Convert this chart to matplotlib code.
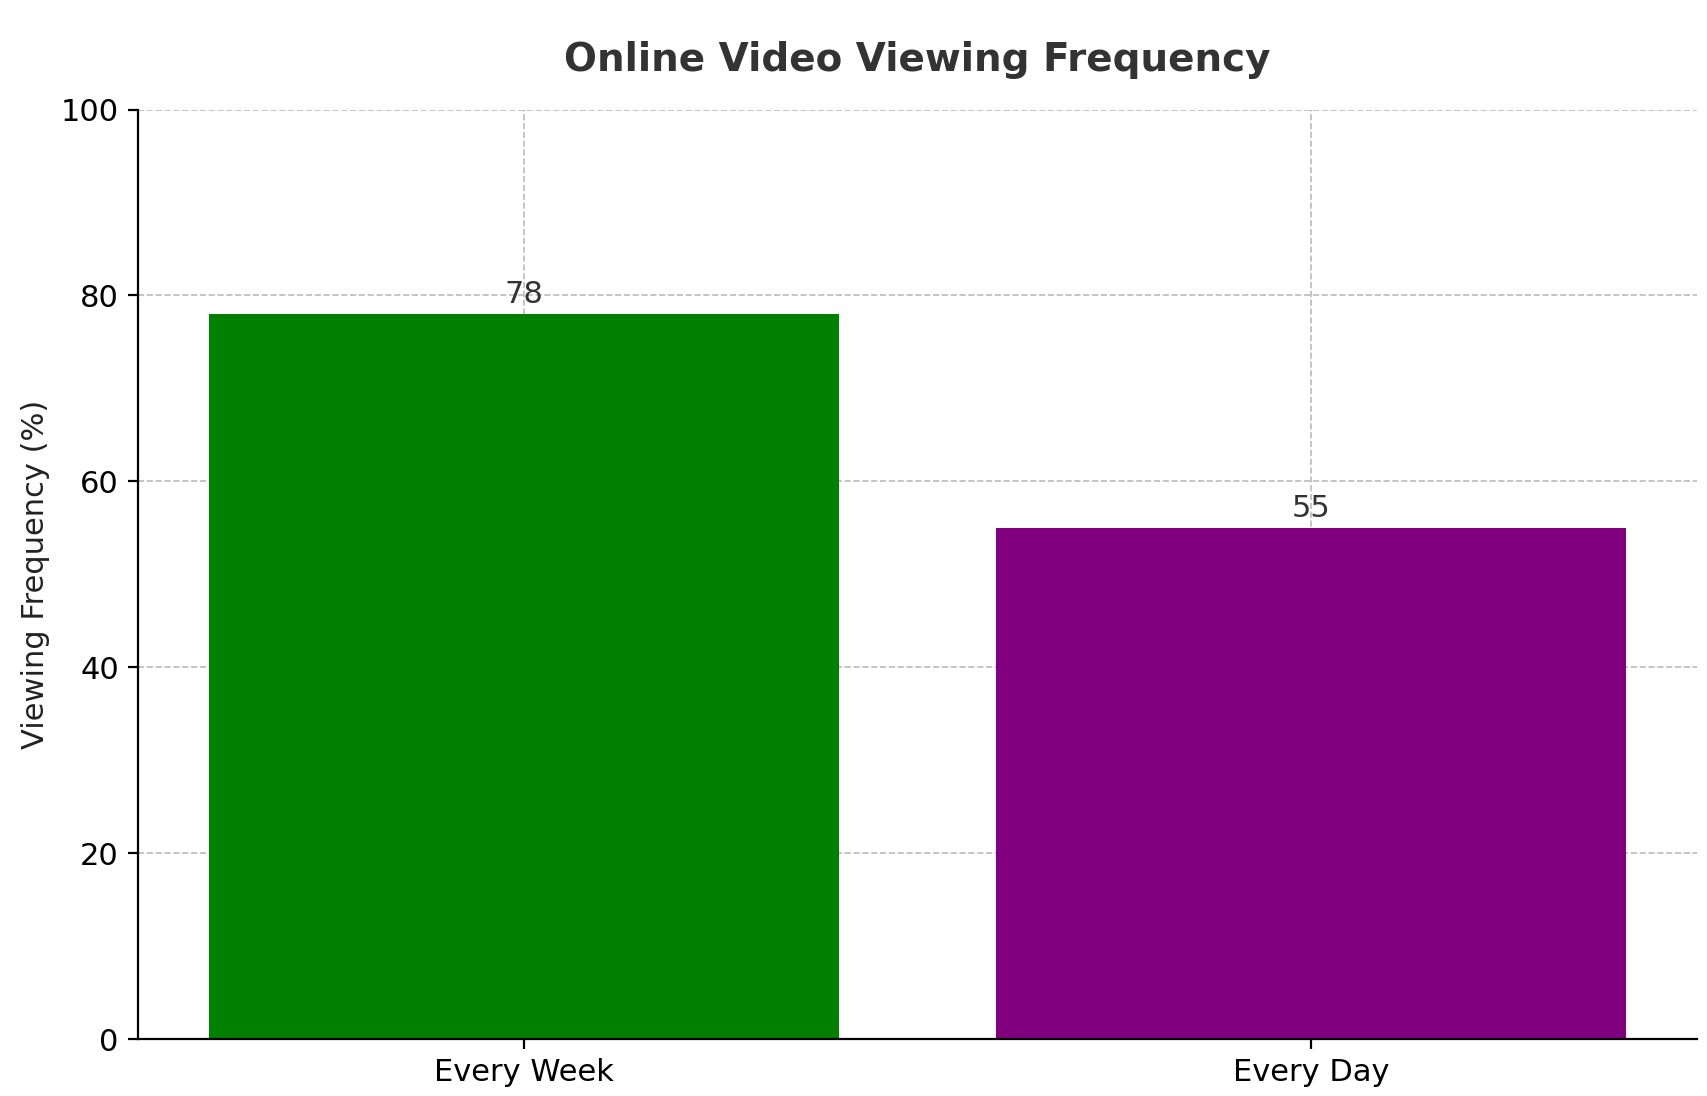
import matplotlib.pyplot as plt

categories = ['Every Week', 'Every Day']
values = [78, 55]
colors = ['green', 'purple']

fig = plt.figure(figsize=(1707 / 200, 1096 / 200), dpi=200)
ax = fig.add_axes([0.081, 0.052, 0.913, 0.848])

bars = ax.bar(categories, values, color=colors, width=0.8, zorder=2)
for b, v in zip(bars, values):
    ax.text(b.get_x() + b.get_width() / 2, v + 0.5, str(v), ha='center', va='bottom',
            fontsize=11, color='#333333', zorder=3)

ax.set_ylim(0, 100)
ax.set_ylabel('Viewing Frequency (%)', fontsize=11, color='#222222')
ax.set_title('Online Video Viewing Frequency', fontsize=14, fontweight='bold', color='#333333', pad=14)
ax.grid(True, linestyle='--', color='#bbbbbb', linewidth=0.6, zorder=3)
ax.tick_params(labelsize=11)
for s in ['top', 'right']:
    ax.spines[s].set_visible(False)

fig.savefig('out.png', dpi=200)
